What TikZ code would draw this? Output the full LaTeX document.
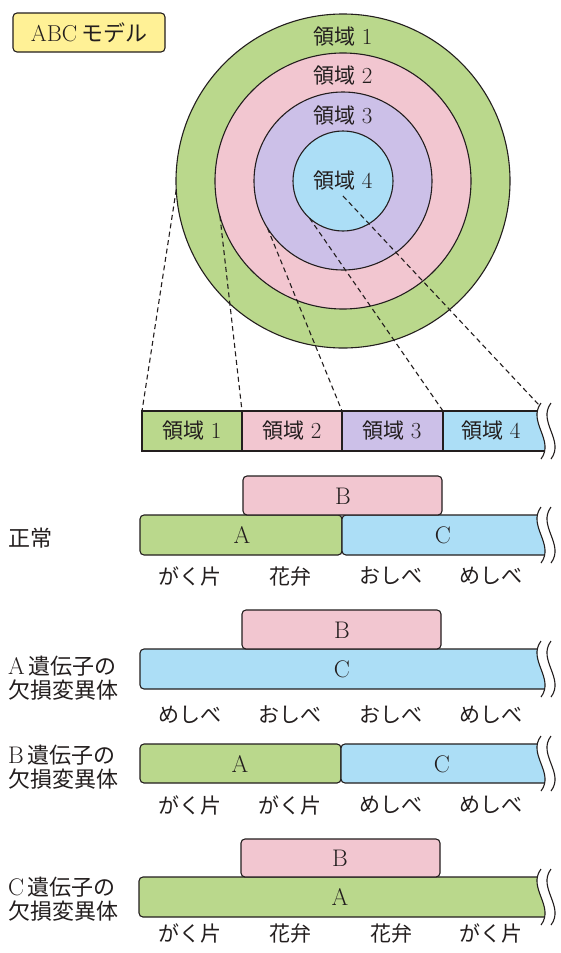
\documentclass[tikz,border=0pt]{standalone}
\usepackage{fontspec}
\newfontfamily\jp{Noto Sans CJK JP}
\usetikzlibrary{calc}
\definecolor{gA}{RGB}{186,216,140}
\definecolor{pB}{RGB}{242,198,208}
\definecolor{vR}{RGB}{204,192,232}
\definecolor{bC}{RGB}{172,222,246}
\definecolor{yT}{RGB}{255,241,150}
\definecolor{ink}{RGB}{35,30,30}
\tikzset{
  ln/.style={draw=ink, line width=1.1pt},
  lbl/.style={font=\fontsize{21}{23}\selectfont, text=ink, inner sep=0pt},
  let/.style={font=\fontsize{24}{24}\selectfont, text=ink, inner sep=0pt},
  rowlbl/.style={font=\fontsize{22}{24}\selectfont, text=ink, inner sep=0pt, anchor=west, align=left},
  dsh/.style={draw=ink, dash pattern=on 5pt off 3.5pt, line width=1.1pt},
}
% break curves at right end: top, bottom
\newcommand\brkcurves[2]{%
  \draw[ln] (541,{#1-8}) .. controls (527,{#1-8+(#2-#1+16)/3}) and (555,{#1-8+2*(#2-#1+16)/3}) .. (541,{#2+8});
  \draw[ln] (551,{#1-8}) .. controls (537,{#1-8+(#2-#1+16)/3}) and (565,{#1-8+2*(#2-#1+16)/3}) .. (551,{#2+8});
}
\newcommand\brkclip[3]{% left, top, bottom
  \clip (541,{#2-8}) .. controls (527,{#2-8+(#3-#2+16)/3}) and (555,{#2-8+2*(#3-#2+16)/3}) .. (541,{#3+8}) -- ({#1-10},{#3+8}) -- ({#1-10},{#2-8}) -- cycle;
}
% bar running to the break: left, top, bottom, colour
\newcommand\brkbar[4]{%
  \begin{scope}
    \brkclip{#1}{#2}{#3}
    \draw[ln, fill=#4, rounded corners=4pt] (#1,#2) rectangle (575,#3);
  \end{scope}
  \brkcurves{#2}{#3}
}
\newcommand\jpt[1]{{\jp #1}}
\newcommand\dg[1]{{\fontsize{23}{23}\selectfont #1}}
\begin{document}
\begin{tikzpicture}[x=1pt,y=-1pt]
\useasboundingbox[fill=white] (0,0) rectangle (561,953);

% title
\node[draw=ink, line width=1.1pt, fill=yT, rounded corners=4pt, minimum width=152pt, minimum height=39pt, inner sep=0pt,
      font=\fontsize{23}{23}\selectfont, text=ink] (title) at (89,32.5) {ABC\,{\fontsize{22}{22}\selectfont\jpt{モデル}}};

% concentric circles
\coordinate (c) at (343,181);
\draw[ln, fill=gA] (c) circle[radius=167];
\draw[ln, fill=pB] (c) circle[radius=128];
\draw[ln, fill=vR] (c) circle[radius=89];
\draw[ln, fill=bC] (c) circle[radius=50];
\node[lbl] (r1) at (343,37) {\jpt{領域} \dg{1}};
\node[lbl] (r2) at (343,76) {\jpt{領域} \dg{2}};
\node[lbl] (r3) at (343,116) {\jpt{領域} \dg{3}};
\node[lbl] (r4) at (343,181) {\jpt{領域} \dg{4}};

% points on circles
\coordinate (q1) at ($(c)+(177:167)$);
\coordinate (q2) at ($(c)+(164:128)$);
\coordinate (q3) at ($(c)+(148:89)$);
\coordinate (q4) at ($(c)+(132:50)$);
\coordinate (q5) at (343,196);

% region bar
\begin{scope}
  \brkclip{142}{411}{451}
  \fill[gA] (142,411) rectangle (242,451);
  \fill[pB] (242,411) rectangle (342,451);
  \fill[vR] (342,411) rectangle (443,451);
  \fill[bC] (443,411) rectangle (575,451);
  \draw[ln] (575,411) -- (142,411) -- (142,451) -- (575,451);
  \draw[ln] (242,411) -- (242,451) (342,411) -- (342,451) (443,411) -- (443,451);
\end{scope}
\brkcurves{411}{451}
\coordinate (b1) at (142,411);
\coordinate (b2) at (242,411);
\coordinate (b3) at (342,411);
\coordinate (b4) at (443,411);
\coordinate (b5) at (539,405);
\node[lbl] (s1) at (192,431) {\jpt{領域} \dg{1}};
\node[lbl] (s2) at (292,431) {\jpt{領域} \dg{2}};
\node[lbl] (s3) at (392,431) {\jpt{領域} \dg{3}};
\node[lbl] (s4) at (491,431) {\jpt{領域} \dg{4}};

\draw[dsh] (q1) -- (b1);
\draw[dsh] (q2) -- (b2);
\draw[dsh] (q3) -- (b3);
\draw[dsh] (q4) -- (b4);
\draw[dsh] (q5) -- (b5);

% ---- normal
\node[rowlbl] (n0) at (8,538) {\jpt{正常}};
\draw[ln, fill=gA, rounded corners=4pt] (140,515) rectangle (342,555);
\brkbar{342}{515}{555}{bC}
\draw[ln, fill=pB, rounded corners=4pt] (243,476) rectangle (442,515);
\node[let] (n1) at (242,535) {A};
\node[let] (n2) at (443,535) {C};
\node[let] (n3) at (343,496) {B};
\node[lbl] (n4) at (190,576) {\jpt{がく片}};
\node[lbl] (n5) at (290,576) {\jpt{花弁}};
\node[lbl] (n6) at (391,576) {\jpt{おしべ}};
\node[lbl] (n7) at (491,576) {\jpt{めしべ}};

% ---- A mutant
\node[rowlbl] (a0) at (8,678) {{\fontsize{24}{24}\selectfont A}\,\jpt{遺伝子の}\\\jpt{欠損変異体}};
\brkbar{140}{649}{689}{bC}
\draw[ln, fill=pB, rounded corners=4pt] (242,610) rectangle (441,649);
\node[let] (a1) at (342,669) {C};
\node[let] (a2) at (342,630) {B};
\node[lbl] (a3) at (190,715) {\jpt{めしべ}};
\node[lbl] (a4) at (290,715) {\jpt{おしべ}};
\node[lbl] (a5) at (391,715) {\jpt{おしべ}};
\node[lbl] (a6) at (491,715) {\jpt{めしべ}};

% ---- B mutant
\node[rowlbl] (m0) at (8,767) {{\fontsize{24}{24}\selectfont B}\,\jpt{遺伝子の}\\\jpt{欠損変異体}};
\draw[ln, fill=gA, rounded corners=4pt] (140,744) rectangle (341,783);
\brkbar{341}{744}{783}{bC}
\node[let] (m1) at (240,764) {A};
\node[let] (m2) at (442,764) {C};
\node[lbl] (m3) at (190,805) {\jpt{がく片}};
\node[lbl] (m4) at (290,805) {\jpt{がく片}};
\node[lbl] (m5) at (391,805) {\jpt{めしべ}};
\node[lbl] (m6) at (491,805) {\jpt{めしべ}};

% ---- C mutant
\node[rowlbl] (k0) at (8,899) {{\fontsize{24}{24}\selectfont C}\,\jpt{遺伝子の}\\\jpt{欠損変異体}};
\brkbar{139}{877}{917}{gA}
\draw[ln, fill=pB, rounded corners=4pt] (241,839) rectangle (440,877);
\node[let] (k1) at (340,897) {A};
\node[let] (k2) at (340,858) {B};
\node[lbl] (k3) at (190,933) {\jpt{がく片}};
\node[lbl] (k4) at (290,933) {\jpt{花弁}};
\node[lbl] (k5) at (391,933) {\jpt{花弁}};
\node[lbl] (k6) at (491,933) {\jpt{がく片}};
\end{tikzpicture}
\end{document}
